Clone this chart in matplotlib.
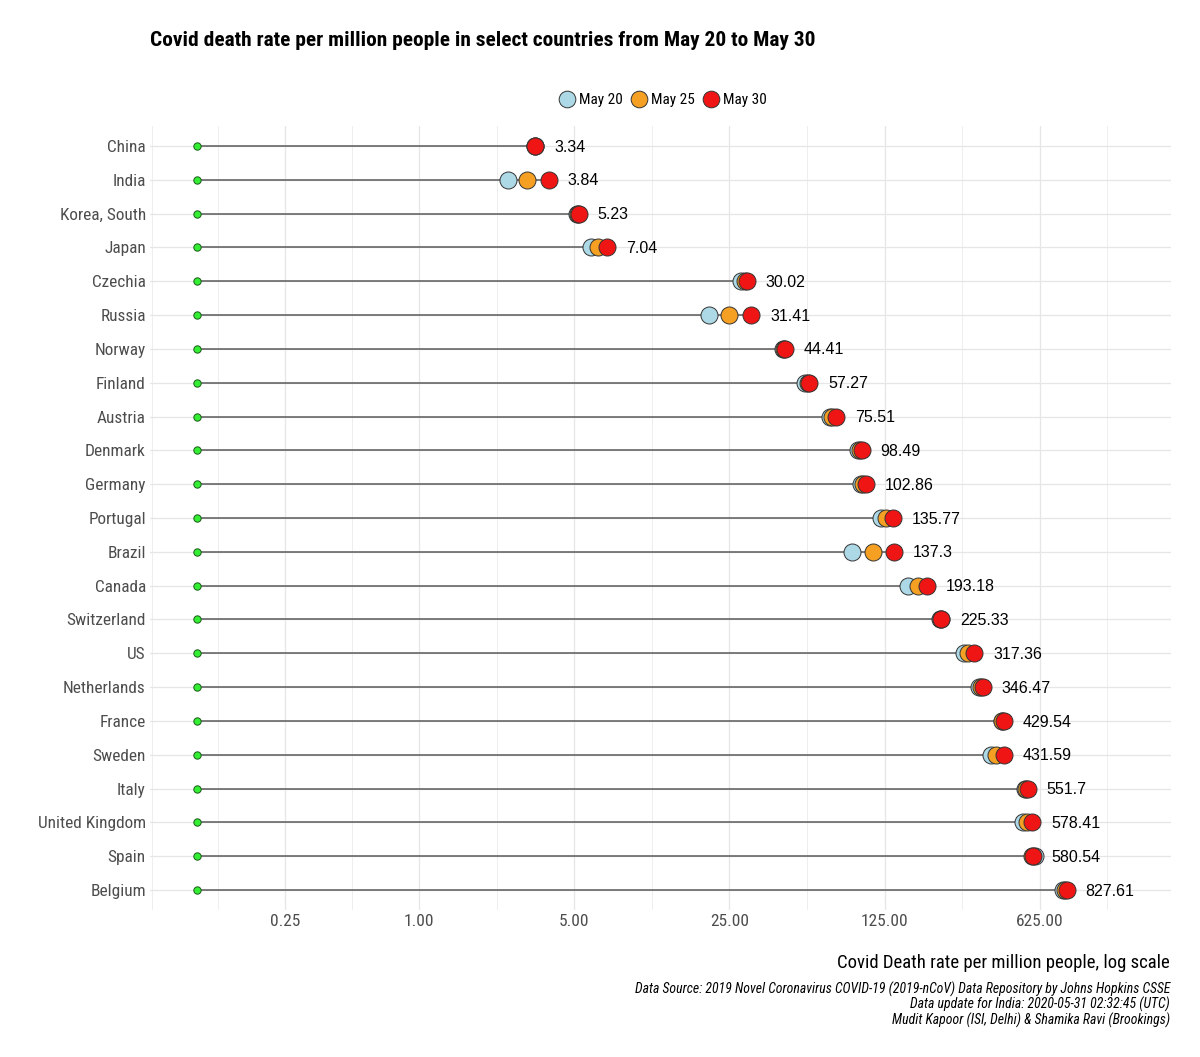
import numpy as np
import matplotlib
matplotlib.use("Agg")
import matplotlib.pyplot as plt
from matplotlib import font_manager as fm
from matplotlib.lines import Line2D

# ---------------- data ----------------
countries = ["China", "India", "Korea, South", "Japan", "Czechia", "Russia", "Norway",
             "Finland", "Austria", "Denmark", "Germany", "Portugal", "Brazil", "Canada",
             "Switzerland", "US", "Netherlands", "France", "Sweden", "Italy",
             "United Kingdom", "Spain", "Belgium"]
may20 = [3.33, 2.52, 5.13, 5.97, 28.3, 20.3, 43.6, 55.0, 71.2, 95.2, 97.6, 121.0,
         88.8, 160.0, 222.0, 283.6, 332.0, 420.0, 376.0, 535.0, 527.0, 596.0, 796.0]
may25 = [3.34, 3.07, 5.18, 6.42, 29.5, 24.9, 44.0, 56.2, 72.6, 97.2, 100.2, 127.0,
         110.4, 176.0, 224.0, 297.0, 339.0, 424.0, 396.0, 544.0, 547.0, 575.0, 811.0]
may30 = [3.34, 3.84, 5.23, 7.04, 30.02, 31.41, 44.41, 57.27, 75.51, 98.49, 102.86,
         135.77, 137.3, 193.18, 225.33, 317.36, 346.47, 429.54, 431.59, 551.7, 578.41,
         580.54, 827.61]
label_texts = ["3.34", "3.84", "5.23", "7.04", "30.02", "31.41", "44.41", "57.27",
               "75.51", "98.49", "102.86", "135.77", "137.3", "193.18", "225.33",
               "317.36", "346.47", "429.54", "431.59", "551.7", "578.41", "580.54",
               "827.61"]
start_value = 0.1
series_names = ["May 20", "May 25", "May 30"]
tick_values = [0.25, 1, 5, 25, 125, 625]
tick_labels = ["0.25", "1.00", "5.00", "25.00", "125.00", "625.00"]

# ---------------- fonts ----------------
names = {f.name for f in fm.fontManager.ttflist}
narrow_kw = {}
for cand in ["Liberation Sans Narrow", "Arial Narrow", "Roboto Condensed",
             "Open Sans Condensed"]:
    if cand in names:
        narrow_kw = {"family": [cand, "DejaVu Sans"]}
        break
if not narrow_kw:
    has_dv_cond = any(f.name == "DejaVu Sans" and str(f.stretch) in ("condensed", "semi-condensed")
                      for f in fm.fontManager.ttflist)
    if has_dv_cond:
        narrow_kw = {"family": ["DejaVu Sans"], "stretch": "condensed"}
    else:
        narrow_kw = {"family": ["Roboto", "Liberation Sans", "DejaVu Sans"]}
reg_kw = {"family": ["Liberation Sans", "DejaVu Sans"]}

# ---------------- figure ----------------
fig = plt.figure(figsize=(12, 10.57), dpi=100)
fig.patch.set_facecolor("white")
ax = fig.add_axes([0.125, 0.1388, 0.851, 0.7423])
ax.set_xscale("log")
ax.set_xlim(0.0615, 2440)
n = len(countries)
ypos = np.arange(n)[::-1]
ax.set_ylim(-0.6, n - 0.4)

# gridlines (ggplot-style minor breaks)
lb = np.log10(tick_values)
bd = lb[1] - lb[0]
ext = np.concatenate([[lb[0] - bd], lb, [lb[-1] + bd]])
mids = (ext[:-1] + ext[1:]) / 2
minor_all = np.concatenate([ext, mids])
xl = ax.get_xlim()
for v in minor_all:
    xv = 10 ** v
    if xl[0] <= xv <= xl[1]:
        ax.axvline(xv, color="#EBEBEB", lw=0.6, zorder=0)
for v in tick_values:
    ax.axvline(v, color="#E6E6E6", lw=0.9, zorder=0)
for y in ypos:
    ax.axhline(y, color="#E6E6E6", lw=0.9, zorder=0)

# segments
hi = np.maximum(np.maximum(may20, may25), may30)
ax.hlines(ypos, start_value, hi, color="#5a5a5a", lw=1.1, zorder=2)
ax.scatter([start_value] * n, ypos, s=28, color="#33EE33", edgecolor="#1a5a1a",
           linewidths=0.7, zorder=3)

colors = ["#ADD8E6", "#F5A023", "#F01515"]
for vals, c in zip([may20, may25, may30], colors):
    ax.scatter(vals, ypos, s=150, color=c, edgecolor="#333333", linewidths=0.7,
               zorder=4)

for v, y, t in zip(may30, ypos, label_texts):
    ax.annotate(t, (v, y), xytext=(13.5, -0.8), textcoords="offset points",
                ha="left", va="center", fontsize=11.5, color="black", **reg_kw)

ax.set_yticks(ypos)
ax.set_yticklabels(countries, fontsize=12.4, color="#4D4D4D", **narrow_kw)
ax.set_xticks(tick_values)
ax.set_xticklabels(tick_labels, fontsize=12.5, color="#4D4D4D", **narrow_kw)
ax.xaxis.set_minor_locator(matplotlib.ticker.NullLocator())
ax.tick_params(axis="both", length=0)
ax.tick_params(axis="y", pad=3)
ax.tick_params(axis="x", pad=3)
for s in ax.spines.values():
    s.set_visible(False)
ax.set_facecolor("white")

# title
fig.text(150 / 1200, 1 - 40 / 1057,
         "Covid death rate per million people in select countries from May 20 to May 30",
         ha="left", va="center", fontsize=15.4, fontweight="bold", color="black",
         **narrow_kw)

# legend
handles = [Line2D([0], [0], marker="o", linestyle="none", markersize=12,
                  markerfacecolor=c, markeredgecolor="#333333", markeredgewidth=0.7)
           for c in colors]
leg = fig.legend(handles, series_names, loc="center", ncol=3,
                 bbox_to_anchor=(663 / 1200, 1 - 100 / 1057), frameon=False,
                 handlelength=1.0, handletextpad=0.25, columnspacing=0.6,
                 prop=fm.FontProperties(size=11, **narrow_kw))

# axis title & caption
fig.text(1170 / 1200, 1 - 963 / 1057, "Covid Death rate per million people, log scale",
         ha="right", va="center", fontsize=13.5, color="black", **narrow_kw)
caption = ["Data Source: 2019 Novel Coronavirus COVID-19 (2019-nCoV) Data Repository by Johns Hopkins CSSE",
           "Data update for India: 2020-05-31 02:32:45 (UTC)",
           "Mudit Kapoor (ISI, Delhi) & Shamika Ravi (Brookings)"]
for i, line in enumerate(caption):
    fig.text(1170 / 1200, 1 - (989 + 15.5 * i) / 1057, line, ha="right", va="center",
             fontsize=9.9, style="italic", color="black", **narrow_kw)

fig.savefig("out.png", dpi=100, facecolor="white")
